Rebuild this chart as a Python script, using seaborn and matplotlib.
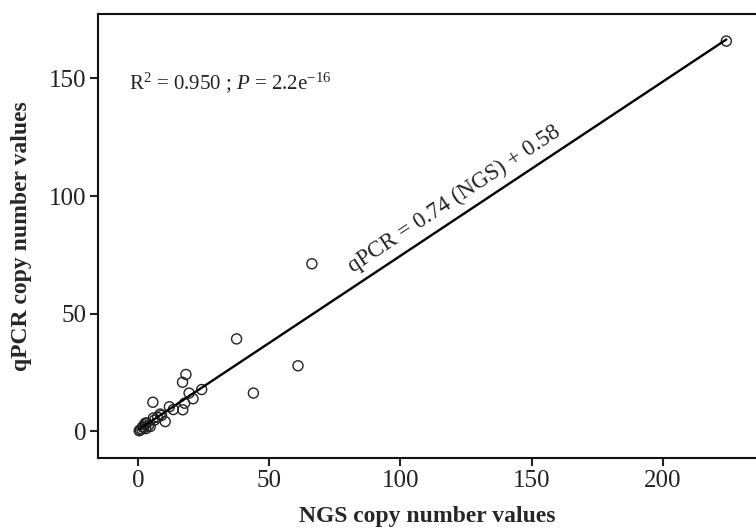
import numpy as np
import pandas as pd
import matplotlib
matplotlib.use("Agg")
import matplotlib.pyplot as plt
import seaborn as sns

# Data
ngs = [224.2, 66.3, 37.6, 61.0, 44.0, 18.3, 17.0, 24.3, 19.5, 21.0, 17.8, 17.1,
       12.0, 13.5, 5.7, 10.4, 8.5, 7.5, 5.9, 4.7, 3.4, 2.5, 4.0, 1.8, 0.9, 0.5,
       1.5, 2.2, 3.0, 6.3, 9.0, 2.8]
qpcr = [165.8, 71.2, 39.3, 27.9, 16.3, 24.2, 20.9, 17.8, 16.3, 13.9, 12.0, 9.2,
        10.5, 9.3, 12.4, 4.2, 7.4, 6.0, 5.7, 2.1, 3.6, 2.8, 2.5, 2.0, 0.7, 0.3,
        1.0, 1.6, 1.2, 4.8, 6.8, 3.5]
slope = 0.74
intercept = 0.58
x_ticks = [0, 50, 100, 150, 200]
y_ticks = [0, 50, 100, 150]

sns.set_style("ticks")
plt.rcParams['font.family'] = ['Liberation Serif', 'DejaVu Serif']
plt.rcParams['mathtext.fontset'] = 'custom'
plt.rcParams['mathtext.rm'] = 'Liberation Serif'
plt.rcParams['mathtext.it'] = 'Liberation Serif:italic'

df = pd.DataFrame({"NGS": ngs, "qPCR": qpcr})
fit_x = np.array([min(ngs), max(ngs)])
line_df = pd.DataFrame({"NGS": fit_x, "qPCR": slope * fit_x + intercept})

fig = plt.figure(figsize=(7.56, 5.28), dpi=100)
ax = fig.add_axes([98 / 756, (528 - 458.3) / 528, 1 - 98 / 756, (458.3 - 14) / 528])

sns.lineplot(data=line_df, x="NGS", y="qPCR", ax=ax, color="black", lw=1.7)
sns.scatterplot(data=df, x="NGS", y="qPCR", ax=ax, s=52, facecolor="none",
                edgecolor="#222222", linewidth=1.0, marker="o")

ax.set_xlim(-15.2, 235.5)
ax.set_ylim(-11.4, 177.3)
ax.set_xticks(x_ticks)
ax.set_yticks(y_ticks)
ax.tick_params(labelsize=18, length=6, width=1.5, colors="#222222", pad=2.5)
for s in ["left", "bottom", "top"]:
    ax.spines[s].set_linewidth(1.5)
    ax.spines[s].set_color("#111111")
ax.spines["right"].set_visible(False)

ax.set_xlabel("NGS copy number values", fontsize=17, fontweight="bold", labelpad=10)
ax.set_ylabel("qPCR copy number values", fontsize=17, fontweight="bold", labelpad=12)

ax.text(-3.5, 148, r"R$^{2}$ = 0.950 ; $\mathit{P}$ = 2.2e$^{-16}$", fontsize=15,
        color="#222222", va="center", ha="left")

ang = np.degrees(np.arctan(slope * (2.356 / 2.63)))
ax.text(120.5, 98.5, "qPCR = 0.74 (NGS) + 0.58", fontsize=16.5, rotation=ang,
        rotation_mode="anchor", ha="center", va="center", color="#222222")

fig.savefig("out.png", dpi=100)
